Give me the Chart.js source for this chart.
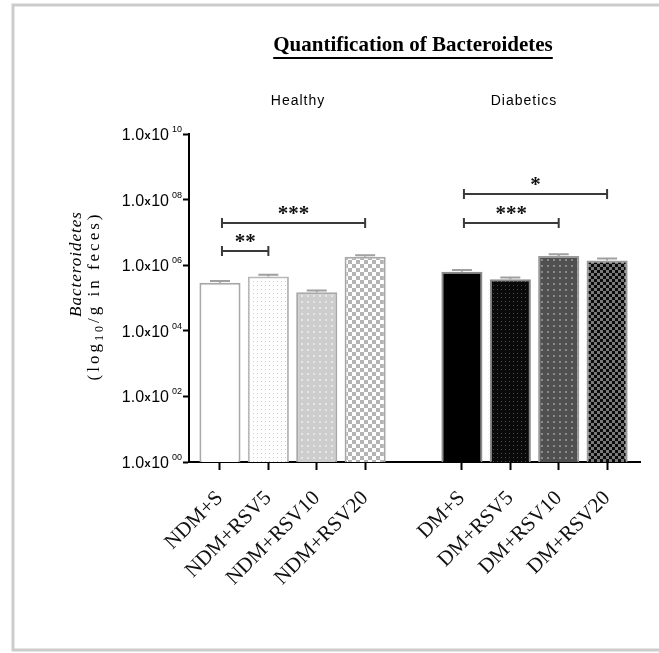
<!DOCTYPE html>
<html>
<head>
<meta charset="utf-8">
<script src="https://cdn.jsdelivr.net/npm/chart.js@4.4.1/dist/chart.umd.min.js"></script>
<style>
  html, body { margin: 0; padding: 0; background: #fff; }
  #wrap { width: 659px; height: 653px; position: relative; }
</style>
</head>
<body>
<div id="wrap"><canvas id="c" width="659" height="653"></canvas></div>
<script>
// Group labels and Bacteroidetes counts (copies per g feces)
const healthyGroups  = ['NDM+S', 'NDM+RSV5', 'NDM+RSV10', 'NDM+RSV20'];
const diabeticGroups = ['DM+S', 'DM+RSV5', 'DM+RSV10', 'DM+RSV20'];
const healthyValues  = [2.9e5, 4.5e5, 1.5e5, 1.8e6];
const diabeticValues = [6.3e5, 3.7e5, 1.9e6, 1.4e6];
const healthyErrors  = [0.4e5, 0.6e5, 0.2e5, 0.2e6];
const diabeticErrors = [0.9e5, 0.5e5, 0.25e6, 0.2e6];

// Y tick exponents (1.0x10^n)
const tickExponents = [0, 2, 4, 6, 8, 10];

// Significance brackets
const bracketFrom  = ['NDM+S', 'NDM+S', 'DM+S', 'DM+S'];
const bracketTo    = ['NDM+RSV5', 'NDM+RSV20', 'DM+RSV10', 'DM+RSV20'];
const bracketLevel = [2.8e6, 2.0e7, 1.9e7, 1.5e8];
const bracketStars = ['**', '***', '***', '*'];

// one empty slot separates the two groups on the category axis
const labels = [...healthyGroups, '', ...diabeticGroups];
const values = [...healthyValues, null, ...diabeticValues];
const errors = [...healthyErrors, null, ...diabeticErrors];

function makePattern(bg, fg, kind, size) {
  const c = document.createElement('canvas');
  c.width = size; c.height = size;
  const g = c.getContext('2d');
  g.fillStyle = bg; g.fillRect(0, 0, size, size);
  g.fillStyle = fg;
  if (kind === 'dots') {
    g.fillRect(1, 1, 1, 1);
  } else if (kind === 'check') {
    const h = size / 2;
    g.fillRect(0, 0, h, h);
    g.fillRect(h, h, h, h);
  } else if (kind === 'blots') {
    g.fillRect(1, 1, 2, 2);
  }
  return document.getElementById('c').getContext('2d').createPattern(c, 'repeat');
}

const fills = [
  '#ffffff',
  makePattern('#ffffff', '#cfcfcf', 'dots', 4),
  makePattern('#cdcdcd', '#e6e6e6', 'blots', 6),
  makePattern('#ffffff', '#b4b4b4', 'check', 8),
  'rgba(0,0,0,0)',
  '#000000',
  makePattern('#0a0a0a', '#4a4a4a', 'dots', 4),
  makePattern('#505050', '#8a8a8a', 'blots', 6),
  makePattern('#0a0a0a', '#7a7a7a', 'check', 6)
];
const borders = ['#a8a8a8', '#b8b8b8', '#a8a8a8', '#a8a8a8', 'rgba(0,0,0,0)',
                 '#8c8c8c', '#8c8c8c', '#9a9a9a', '#9a9a9a'];

// error whiskers on top of each bar
const errorBars = {
  id: 'errorBars',
  afterDatasetsDraw(chart) {
    const { ctx, scales: { x, y } } = chart;
    ctx.save();
    ctx.strokeStyle = '#a0a0a0';
    ctx.lineWidth = 2;
    values.forEach((v, i) => {
      if (v == null) return;
      const px = x.getPixelForValue(i);
      const top = y.getPixelForValue(v + errors[i]);
      const base = y.getPixelForValue(v);
      ctx.beginPath();
      ctx.moveTo(px, base); ctx.lineTo(px, top);
      ctx.moveTo(px - 10, top); ctx.lineTo(px + 10, top);
      ctx.stroke();
    });
    ctx.restore();
  }
};

// significance brackets with stars
const brackets = {
  id: 'brackets',
  afterDatasetsDraw(chart) {
    const { ctx, scales: { x, y } } = chart;
    ctx.save();
    bracketFrom.forEach((from, k) => {
      const x1 = x.getPixelForValue(labels.indexOf(from)) + 2;
      const x2 = x.getPixelForValue(labels.indexOf(bracketTo[k]));
      const py = Math.round(y.getPixelForValue(bracketLevel[k]));
      ctx.strokeStyle = '#3a3a3a';
      ctx.lineWidth = 2;
      ctx.beginPath();
      ctx.moveTo(x1, py); ctx.lineTo(x2, py);
      ctx.moveTo(x1, py - 5); ctx.lineTo(x1, py + 5);
      ctx.moveTo(x2, py - 5); ctx.lineTo(x2, py + 5);
      ctx.stroke();
      ctx.fillStyle = '#111';
      ctx.font = 'bold 21px "Liberation Serif", serif';
      ctx.textAlign = 'center';
      ctx.textBaseline = 'alphabetic';
      ctx.fillText(bracketStars[k], (x1 + x2) / 2, py - 3);
    });
    ctx.restore();
  }
};

// titles, y tick labels, axis title, frame
const decorations = {
  id: 'decorations',
  afterDraw(chart) {
    const { ctx, scales: { y } } = chart;
    ctx.save();
    // outer frame
    ctx.strokeStyle = '#cccccc';
    ctx.lineWidth = 3;
    ctx.strokeRect(13, 5, 700, 645);

    // main title
    ctx.fillStyle = '#000';
    ctx.font = 'bold 21px "Liberation Serif", serif';
    ctx.textAlign = 'center';
    ctx.textBaseline = 'alphabetic';
    const title = 'Quantification of Bacteroidetes';
    const tw = ctx.measureText(title).width;
    ctx.fillText(title, 413, 51);
    ctx.fillRect(413 - tw / 2, 57, tw, 2);

    // group headers
    ctx.font = '14px "Liberation Sans", Arial, sans-serif';
    ctx.letterSpacing = '1px';
    ctx.fillText('Healthy', 298, 105);
    ctx.fillText('Diabetics', 524, 105);
    ctx.letterSpacing = '0px';

    // y tick labels: 1.0x10^nn
    tickExponents.forEach(n => {
      const py = y.getPixelForValue(Math.pow(10, n));
      const sup = String(n).padStart(2, '0');
      ctx.textAlign = 'left';
      ctx.textBaseline = 'alphabetic';
      ctx.font = '9px "Liberation Sans", Arial, sans-serif';
      const wSup = ctx.measureText(sup).width;
      ctx.font = '16px "Liberation Sans", Arial, sans-serif';
      const w10 = ctx.measureText('10').width;
      const w1 = ctx.measureText('1.0').width;
      ctx.font = 'bold 11px "Liberation Sans", Arial, sans-serif';
      const wx = ctx.measureText('x').width;
      const right = 182;
      const xs = right - wSup;
      const x10 = xs - 3 - w10;
      const xx = x10 - wx - 0.5;
      const x1 = xx - w1 - 0.5;
      const base = py + 6;
      ctx.font = '16px "Liberation Sans", Arial, sans-serif';
      ctx.fillText('1.0', x1, base);
      ctx.fillText('10', x10, base);
      ctx.font = 'bold 11px "Liberation Sans", Arial, sans-serif';
      ctx.fillText('x', xx, base - 1);
      ctx.font = '9px "Liberation Sans", Arial, sans-serif';
      ctx.fillText(sup, xs, base - 8);
    });

    // y axis title
    ctx.save();
    ctx.translate(77, 264);
    ctx.rotate(-Math.PI / 2);
    ctx.textAlign = 'center';
    ctx.textBaseline = 'middle';
    ctx.font = 'italic 17px "Liberation Serif", serif';
    ctx.letterSpacing = '1px';
    ctx.fillText('Bacteroidetes', 0, 0);
    ctx.restore();

    ctx.save();
    ctx.translate(95, 296);
    ctx.rotate(-Math.PI / 2);
    ctx.textBaseline = 'middle';
    ctx.textAlign = 'left';
    ctx.letterSpacing = '3px';
    const p1 = '(log', p3 = '/g in feces)';
    ctx.font = '17px "Liberation Serif", serif';
    const w1 = ctx.measureText(p1).width;
    const w3 = ctx.measureText(p3).width;
    ctx.font = '12px "Liberation Serif", serif';
    const w2 = ctx.measureText('10').width;
    const start = -(w1 + w2 + w3) / 2;
    ctx.font = '17px "Liberation Serif", serif';
    ctx.fillText(p1, start, 0);
    ctx.font = '12px "Liberation Serif", serif';
    ctx.fillText('10', start + w1, 5);
    ctx.font = '17px "Liberation Serif", serif';
    ctx.fillText(p3, start + w1 + w2, 0);
    ctx.restore();

    ctx.restore();
  }
};

new Chart(document.getElementById('c'), {
  type: 'bar',
  data: {
    labels,
    datasets: [{
      data: values,
      backgroundColor: fills,
      borderColor: borders,
      borderWidth: 2,
      borderSkipped: 'bottom',
      barPercentage: 0.85,
      categoryPercentage: 1
    }]
  },
  options: {
    responsive: false,
    animation: false,
    devicePixelRatio: 1,
    layout: { padding: { top: 134, left: 0, right: 19, bottom: 0 } },
    plugins: { legend: { display: false }, tooltip: { enabled: false } },
    scales: {
      x: {
        type: 'category',
        offset: false,
        grid: {
          offset: false,
          drawOnChartArea: false,
          tickLength: 8,
          tickWidth: 2,
          tickColor: ctx => (labels[ctx.index] ? '#000' : 'rgba(0,0,0,0)')
        },
        border: { color: '#000', width: 2 },
        ticks: {
          autoSkip: false,
          minRotation: 45,
          maxRotation: 45,
          padding: 16,
          color: '#111',
          font: { family: '"Liberation Serif", serif', size: 21 }
        },
        // leave a little more room at both ends than a plain half slot
        afterBuildTicks: s => { s._startValue = -0.64; s._valueRange = labels.length - 1 + 1.32; },
        afterFit: s => { s.height = 653 - 462; }
      },
      y: {
        type: 'logarithmic',
        min: 1,
        max: 1e10,
        afterBuildTicks: s => { s.ticks = tickExponents.map(n => ({ value: Math.pow(10, n) })); },
        grid: { drawOnChartArea: false, tickLength: 6, tickWidth: 2, tickColor: '#000' },
        border: { color: '#000', width: 2 },
        ticks: { display: false },
        afterFit: s => { s.width = 189; }
      }
    }
  },
  plugins: [errorBars, brackets, decorations]
});
</script>
</body>
</html>
